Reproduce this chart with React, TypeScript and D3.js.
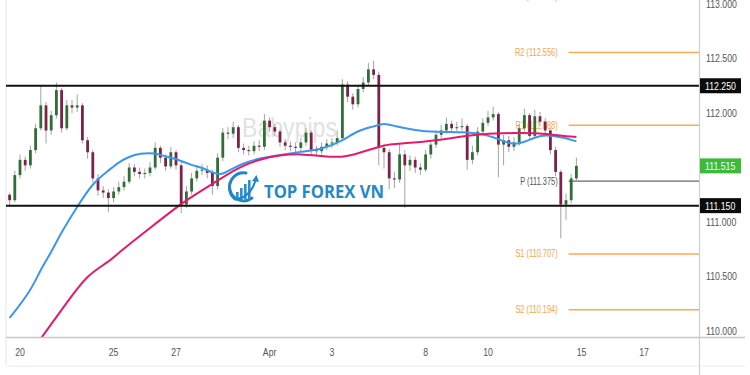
import React from "react";
import * as d3 from "d3";

// ---- data (USD/JPY 4H) ----
const firstOpen = 111.25;
const closes = [
  111.20, 111.43, 111.57, 111.52, 111.66, 111.86, 112.07, 111.84, 111.98, 112.21,
  111.86, 112.07, 112.05, 112.07, 111.75, 111.64, 111.40, 111.29, 111.27, 111.22,
  111.28, 111.32, 111.37, 111.50, 111.46, 111.44, 111.45, 111.50, 111.68, 111.59,
  111.51, 111.64, 111.52, 111.16, 111.28, 111.40, 111.47, 111.48, 111.45, 111.33,
  111.59, 111.82, 111.81, 111.87, 111.68, 111.66, 111.65, 111.70, 111.69, 111.93,
  111.87, 111.83, 111.73, 111.70, 111.69, 111.68, 111.73, 111.82, 111.66, 111.65,
  111.69, 111.72, 111.73, 111.77, 112.26, 112.15, 112.08, 112.22, 112.28, 112.40,
  112.35, 111.68, 111.64, 111.40, 111.39, 111.62, 111.52, 111.57, 111.50, 111.48,
  111.62, 111.71, 111.80, 111.84, 111.90, 111.86, 111.87, 111.88, 111.57, 111.64,
  111.83, 111.91, 111.96, 111.99, 111.71, 111.75, 111.69, 111.73, 111.86, 111.98,
  111.79, 111.97, 111.92, 111.84, 111.66, 111.46, 111.16, 111.20, 111.40, 111.515,
];
const highs = [
  111.27, 111.47, 111.62, 111.60, 111.70, 111.90, 112.25, 112.10, 112.02, 112.28,
  112.23, 112.12, 112.12, 112.17, 112.09, 111.78, 111.66, 111.44, 111.33, 111.30,
  111.32, 111.37, 111.42, 111.54, 111.53, 111.50, 111.49, 111.55, 111.73, 111.70,
  111.62, 111.69, 111.66, 111.55, 111.33, 111.45, 111.52, 111.53, 111.52, 111.48,
  111.63, 111.86, 111.87, 111.92, 111.89, 111.72, 111.70, 111.74, 111.75, 111.99,
  111.96, 111.90, 111.85, 111.76, 111.74, 111.73, 111.77, 111.86, 111.84, 111.70,
  111.73, 111.76, 111.77, 111.84, 112.31, 112.29, 112.18, 112.26, 112.33, 112.46,
  112.48, 112.38, 111.72, 111.67, 111.46, 111.72, 111.66, 111.61, 111.60, 111.54,
  111.66, 111.75, 111.84, 111.89, 111.96, 111.93, 111.92, 111.95, 111.90, 111.70,
  111.87, 111.95, 112.02, 112.06, 112.01, 111.80, 111.79, 111.78, 111.90, 112.04,
  112.00, 112.03, 112.01, 111.95, 111.86, 111.69, 111.48, 111.26, 111.44, 111.59,
];
const lows = [
  111.14, 111.18, 111.40, 111.47, 111.49, 111.63, 111.84, 111.72, 111.80, 111.95,
  111.82, 111.84, 112.00, 112.01, 111.72, 111.58, 111.36, 111.24, 111.22, 111.09,
  111.18, 111.25, 111.29, 111.35, 111.42, 111.40, 111.40, 111.42, 111.48, 111.54,
  111.47, 111.49, 111.48, 111.08, 111.13, 111.25, 111.37, 111.43, 111.40, 111.25,
  111.30, 111.56, 111.76, 111.77, 111.64, 111.62, 111.61, 111.62, 111.65, 111.66,
  111.83, 111.79, 111.69, 111.66, 111.65, 111.64, 111.65, 111.70, 111.62, 111.61,
  111.62, 111.66, 111.68, 111.70, 111.75, 112.10, 112.03, 112.05, 112.19, 112.25,
  112.31, 111.52, 111.49, 111.30, 111.31, 111.36, 111.13, 111.47, 111.45, 111.43,
  111.46, 111.58, 111.68, 111.77, 111.81, 111.82, 111.83, 111.84, 111.48, 111.53,
  111.61, 111.80, 111.88, 111.93, 111.41, 111.52, 111.64, 111.65, 111.70, 111.83,
  111.75, 111.77, 111.88, 111.80, 111.62, 111.42, 110.85, 111.02, 111.17, 111.37,
];

// moving averages (sampled at candle indices)
const blueIdx = [0, 4, 6, 8, 10, 13, 16, 19, 21, 23, 25, 28, 30, 32, 35, 37, 39, 41, 43, 46, 48, 52, 56, 60, 64, 67, 70, 72, 74, 78, 82, 87, 91, 94, 97, 99, 101, 103, 106, 109];
const blueMA = [110.12, 110.36, 110.57, 110.72, 110.91, 111.14, 111.36, 111.47, 111.55, 111.60, 111.63, 111.635, 111.60, 111.58, 111.52, 111.50, 111.45, 111.43, 111.50, 111.555, 111.585, 111.615, 111.645, 111.665, 111.745, 111.84, 111.875, 111.91, 111.88, 111.84, 111.825, 111.825, 111.81, 111.76, 111.705, 111.735, 111.775, 111.80, 111.78, 111.74];
const pinkIdx = [2, 6, 11, 15, 19, 21, 27, 33, 37, 41, 44, 48, 52, 56, 60, 64, 67, 71, 73, 78, 85, 91, 97, 102, 106, 109];
const pinkMA = [109.67, 109.93, 110.26, 110.52, 110.63, 110.72, 110.945, 111.17, 111.29, 111.41, 111.50, 111.575, 111.615, 111.625, 111.605, 111.59, 111.63, 111.69, 111.715, 111.725, 111.77, 111.81, 111.817, 111.817, 111.79, 111.78];

const dateLabels = ["20", "25", "27", "Apr", "3", "8", "10", "15", "17"];
const dateIdx = [2, 20, 32, 50, 62, 80, 92, 110, 122];
const priceTicks = [110, 110.5, 111, 112, 112.5, 113];

const rangeLevels = [112.25, 111.15];
const pivotNames = ["R3", "R2", "R1", "P", "S1", "S2"];
const pivotValues = [113.069, 112.556, 111.888, 111.375, 110.707, 110.194];
const pivotStartIdx = 107.5;
const lastPrice = 111.515;

// ---- layout ----
const W = 750, H = 375;
const plotL = 6, plotR = 699, plotB = 337.5, dateB = 366;
const SX = 0.76;
const FONT = "'Liberation Sans', Arial, sans-serif";

const x = d3.scaleLinear().domain([0, 109]).range([9.6, 576.4]);
const y = d3.scaleLinear().domain([110, 113]).range([331, 4]);

function T({ x: tx, y: ty, size = 11.5, fill = "#555", anchor = "start", weight = 400, sx = SX, children }: any) {
  return (
    <text
      transform={`translate(${tx},${ty}) scale(${sx},1)`}
      fontFamily={FONT}
      fontSize={size}
      fontWeight={weight}
      fill={fill}
      textAnchor={anchor}
      dominantBaseline="central"
    >
      {children}
    </text>
  );
}

export default function App() {
  const candles = closes.map((c, i) => ({
    i,
    o: i === 0 ? firstOpen : closes[i - 1],
    c,
    h: highs[i],
    l: lows[i],
  }));
  const line = d3
    .line<[number, number]>()
    .x((d) => x(d[0]))
    .y((d) => y(d[1]))
    .curve(d3.curveBasis);
  const bluePath = line(blueIdx.map((d, k) => [d, blueMA[k]]) as [number, number][]) || "";
  const pinkPath = line(pinkIdx.map((d, k) => [d, pinkMA[k]]) as [number, number][]) || "";
  const pStart = x(pivotStartIdx);
  const bw = 2.8;

  return (
    <svg width={W} height={H} style={{ position: "absolute", left: 0, top: 0, background: "#fff" }}>
      <defs>
        <clipPath id="plot">
          <rect x={plotL} y={0} width={plotR - plotL} height={plotB} />
        </clipPath>
      </defs>
      <rect x={0} y={0} width={W} height={H} fill="#fff" />

      {/* frame */}
      <line x1={plotL} x2={plotL} y1={0} y2={dateB} stroke="#e6e6e6" strokeWidth={1} />
      <line x1={plotL} x2={745} y1={dateB} y2={dateB} stroke="#ececec" strokeWidth={1} />

      <g clipPath="url(#plot)">
        {/* watermark */}
        <text x={242} y={137} fontFamily={FONT} fontSize={27} fill="#e2e2e2" textLength={95} lengthAdjust="spacingAndGlyphs">
          Babypips
        </text>

        {/* pivot levels */}
        {pivotNames.map((n, k) => {
          const col = n === "P" ? "#555" : "#f7a448";
          const yy = y(pivotValues[k]);
          return (
            <g key={n}>
              <line x1={pStart} x2={plotR} y1={yy} y2={yy} stroke={n === "P" ? "#666" : "#fbaa55"} strokeWidth={n === "P" ? 1.2 : 1.5} />
              <T x={pStart - 11} y={yy} size={10} fill={col} anchor="end" sx={0.74}>
                {`${n} (${pivotValues[k].toFixed(3)})`}
              </T>
            </g>
          );
        })}

        {/* logo */}
        <g>
          <path d="M 252 198 A 14 14 0 1 1 246 173" fill="none" stroke="#1f86c8" strokeWidth={3} strokeLinecap="round" />
          <path d="M 236 200 A 13 13 0 0 1 231 182" fill="none" stroke="#1f86c8" strokeWidth={2} />
          {[0, 1, 2, 3].map((k) => (
            <rect key={k} x={236 + k * 4} y={199 - (7 + k * 4)} width={2.6} height={7 + k * 4} fill="#2a8fcf" />
          ))}
          <path d="M 237 199 Q 252 196 256 178" fill="none" stroke="#1f86c8" strokeWidth={2} />
          <path d="M 252 181 L 256.5 175 L 259 182 Z" fill="#1f86c8" />
          <text x={264} y={198} fontFamily="'Open Sans', Arial, sans-serif" fontSize={17.5} fontWeight={700} fill="#2589c7" textLength={120} lengthAdjust="spacingAndGlyphs">
            TOP FOREX VN
          </text>
        </g>

        {/* candles */}
        {candles.map((d) => {
          const up = d.c >= d.o;
          const col = up ? "#2f6f35" : "#7e2147";
          const top = y(Math.max(d.o, d.c));
          const bot = y(Math.min(d.o, d.c));
          return (
            <g key={d.i}>
              <line x1={x(d.i)} x2={x(d.i)} y1={y(d.h)} y2={y(d.l)} stroke="#a3a3a3" strokeWidth={1} />
              <rect x={x(d.i) - bw / 2} y={top} width={bw} height={Math.max(1, bot - top)} fill={col} />
            </g>
          );
        })}

        {/* moving averages */}
        <path d={bluePath} fill="none" stroke="#3b97ec" strokeWidth={2} />
        <path d={pinkPath} fill="none" stroke="#e8196a" strokeWidth={2} />

        {/* range lines */}
        {rangeLevels.map((v) => (
          <line key={v} x1={plotL} x2={plotR} y1={y(v)} y2={y(v)} stroke="#111" strokeWidth={2} />
        ))}
      </g>

      {/* axes */}
      <line x1={plotR + 0.5} x2={plotR + 0.5} y1={0} y2={H} stroke="#cfcfcf" strokeWidth={1.2} />
      <line x1={plotL} x2={745} y1={plotB} y2={plotB} stroke="#c8c8c8" strokeWidth={1.5} />

      {priceTicks.map((v) => (
        <T key={v} x={706} y={y(v)}>{v.toFixed(3)}</T>
      ))}
      {dateLabels.map((t, k) => (
        <T key={t} x={x(dateIdx[k])} y={352} anchor="middle">{t}</T>
      ))}

      {/* price labels */}
      {rangeLevels.map((v) => (
        <g key={v}>
          <rect x={700} y={y(v) - 7.5} width={41} height={15} fill="#0b0b0b" />
          <T x={705} y={y(v)} fill="#fff">{v.toFixed(3)}</T>
        </g>
      ))}
      <rect x={700} y={y(lastPrice) - 7.5} width={41} height={15} fill="#3dba3a" />
      <T x={705} y={y(lastPrice)} fill="#fff">{lastPrice.toFixed(3)}</T>
    </svg>
  );
}
